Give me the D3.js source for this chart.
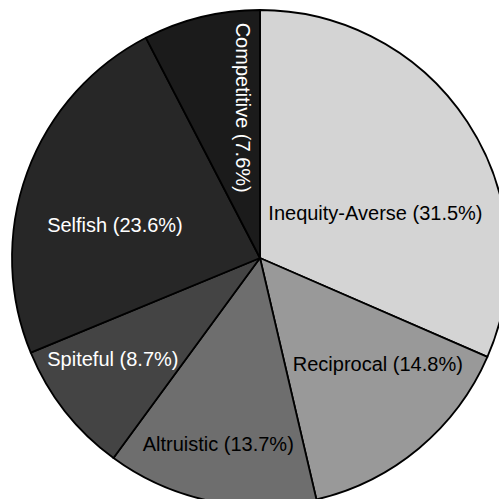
<!DOCTYPE html>
<html>
<head>
<meta charset="utf-8">
<script src="https://cdn.jsdelivr.net/npm/d3@7"></script>
<style>
  html, body { margin: 0; padding: 0; background: #fff; }
  svg { display: block; }
</style>
</head>
<body>
<figure id="pie" style="margin:0"></figure>
<script>
// chart data
const categories = ["Inequity-Averse", "Reciprocal", "Altruistic", "Spiteful", "Selfish", "Competitive"];
const shares = [31.5, 14.8, 13.7, 8.7, 23.6, 7.6];
const fills = ["#d4d4d4", "#999999", "#6e6e6e", "#444444", "#272727", "#1b1b1b"];
const labelColors = ["#000", "#000", "#000", "#fff", "#fff", "#fff"];

// label layout: angle nudge (deg) and radius fraction, rotated flag
const labelShift = [11.8, -8.1, 1.1, 3.6, -7.2, 7.2];
const labelRadius = [0.50, 0.64, 0.77, 0.72, 0.60, 0.61];
const labelRotated = [false, false, false, false, false, true];

const width = 499;
const height = 499;
const cx = 260;
const cy = 258;
const radius = 248;

const svg = d3.select("figure#pie")
  .append("svg")
  .attr("width", width)
  .attr("height", height)
  .append("g")
  .attr("transform", "translate(" + cx + "," + cy + ")");

const pie = d3.pie().sort(null).value(d => d.value);
const arcs = pie(categories.map((c, i) => ({ name: c, value: shares[i], i: i })));

const arc = d3.arc().innerRadius(0).outerRadius(radius);

// slices
svg.selectAll("path.slice")
  .data(arcs)
  .enter()
  .append("path")
  .attr("class", "slice")
  .attr("d", arc)
  .attr("fill", (d, i) => fills[i])
  .attr("stroke", "#000")
  .attr("stroke-width", 1.8)
  .attr("stroke-linejoin", "round");

// labels
svg.selectAll("text.label")
  .data(arcs)
  .enter()
  .append("text")
  .attr("class", "label")
  .attr("transform", (d, i) => {
    const a = (d.startAngle + d.endAngle) / 2 + labelShift[i] * Math.PI / 180;
    const r = radius * labelRadius[i];
    const x = Math.sin(a) * r;
    const y = -Math.cos(a) * r;
    return "translate(" + x + "," + y + ")" + (labelRotated[i] ? " rotate(90)" : "");
  })
  .attr("text-anchor", "middle")
  .attr("dy", "0.35em")
  .attr("font-family", "'Liberation Sans', Arial, sans-serif")
  .attr("font-size", 20)
  .attr("fill", (d, i) => labelColors[i])
  .text(d => d.data.name + " (" + d.data.value.toFixed(1) + "%)");
</script>
</body>
</html>
